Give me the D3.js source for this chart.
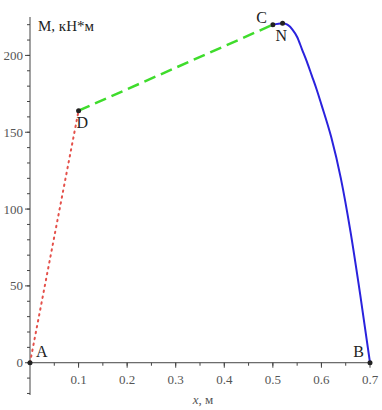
<!DOCTYPE html>
<html>
<head>
<meta charset="utf-8">
<script src="https://cdn.jsdelivr.net/npm/d3@7"></script>
<style>
  body { margin: 0; background: #fff; }
  text { font-family: "Liberation Serif", "DejaVu Serif", serif; }
</style>
</head>
<body>
<div id="target"></div>
<script>
// segment A-D (red dotted)
let segAD = [[0, 0], [0.1, 164]];
// segment D-C (green dashed)
let segDC = [[0.1, 164], [0.5, 220]];
// curve C-N-B (blue)
let curveX = [0.50, 0.52, 0.53, 0.54, 0.55, 0.56, 0.57, 0.58, 0.59, 0.60, 0.62, 0.64, 0.66, 0.68, 0.70];
let curveM = [220, 221, 220, 217, 212, 204, 196, 187, 178, 168, 147, 120, 85, 44, 0];
// labelled points
let pointNames = ["A", "D", "C", "N", "B"];
let pointX = [0, 0.1, 0.5, 0.52, 0.7];
let pointM = [0, 164, 220, 221, 0];
let xTicks = [0.1, 0.2, 0.3, 0.4, 0.5, 0.6, 0.7];
let yTicks = [0, 50, 100, 150, 200];

let width = 382,
  height = 410;

let x = d3.scaleLinear().domain([0, 0.7]).range([30, 370]);
let y = d3.scaleLinear().domain([-21, 225]).range([395, 17]);

let svg = d3.select("#target").append("svg")
  .attr("width", width)
  .attr("height", height);

// x axis through zero
let xAxis = svg.append("g")
  .attr("transform", "translate(0," + y(0) + ")");
xAxis.append("line")
  .attr("x1", x(0)).attr("x2", x(0.7))
  .attr("stroke", "#444").attr("stroke-width", 1);
xAxis.selectAll(".minor")
  .data(d3.range(1, 14).map((i) => i * 0.05))
  .enter().append("line")
  .attr("x1", (d) => x(d)).attr("x2", (d) => x(d))
  .attr("y1", 0).attr("y2", 3)
  .attr("stroke", "#444");
xAxis.selectAll(".major")
  .data(xTicks)
  .enter().append("line")
  .attr("x1", (d) => x(d)).attr("x2", (d) => x(d))
  .attr("y1", 0).attr("y2", 5)
  .attr("stroke", "#444");
xAxis.selectAll("text")
  .data(xTicks)
  .enter().append("text")
  .attr("x", (d) => x(d))
  .attr("y", 21)
  .attr("text-anchor", "middle")
  .style("font-size", "13px")
  .style("fill", "#555")
  .text((d) => d3.format(".1f")(d));

// y axis
let yAxis = svg.append("g")
  .attr("transform", "translate(" + x(0) + ",0)");
yAxis.append("line")
  .attr("y1", y(-21)).attr("y2", y(225))
  .attr("stroke", "#444").attr("stroke-width", 1);
yAxis.selectAll(".minor")
  .data(d3.range(-20, 225, 10))
  .enter().append("line")
  .attr("y1", (d) => y(d)).attr("y2", (d) => y(d))
  .attr("x1", -3).attr("x2", 0)
  .attr("stroke", "#444");
yAxis.selectAll(".major")
  .data(yTicks)
  .enter().append("line")
  .attr("y1", (d) => y(d)).attr("y2", (d) => y(d))
  .attr("x1", -5).attr("x2", 0)
  .attr("stroke", "#444");
yAxis.selectAll("text")
  .data(yTicks)
  .enter().append("text")
  .attr("x", -7)
  .attr("y", (d) => y(d))
  .attr("dy", "0.35em")
  .attr("text-anchor", "end")
  .style("font-size", "13px")
  .style("fill", "#555")
  .text((d) => d);

// axis titles
svg.append("text")
  .attr("x", 38).attr("y", 31)
  .style("font-size", "15px")
  .style("fill", "#222")
  .text("M, кН*м");
let xt = svg.append("text")
  .attr("x", 203).attr("y", 404)
  .attr("text-anchor", "middle")
  .style("font-size", "13px")
  .style("fill", "#555");
xt.append("tspan").style("font-style", "italic").text("x");
xt.append("tspan").text(", м");

let line = d3.line()
  .x((d) => x(d[0]))
  .y((d) => y(d[1]));

svg.append("path")
  .attr("d", line(segAD))
  .attr("fill", "none")
  .attr("stroke", "#e4504a")
  .attr("stroke-width", 2)
  .attr("stroke-dasharray", "1.5,4.5")
  .attr("stroke-linecap", "round");

svg.append("path")
  .attr("d", line(segDC))
  .attr("fill", "none")
  .attr("stroke", "#3fdc2c")
  .attr("stroke-width", 2.5)
  .attr("stroke-dasharray", "12,6");

let curve = curveX.map((d, i) => [d, curveM[i]]);
svg.append("path")
  .attr("d", line.curve(d3.curveMonotoneX)(curve))
  .attr("fill", "none")
  .attr("stroke", "#2a22dd")
  .attr("stroke-width", 2);

// points
let pts = pointNames.map((d, i) => ({ name: d, x: pointX[i], m: pointM[i] }));
svg.selectAll(".pt")
  .data(pts)
  .enter().append("circle")
  .attr("cx", (d) => x(d.x))
  .attr("cy", (d) => y(d.m))
  .attr("r", 2.5)
  .style("fill", "#222");

let labelOffset = {
  A: [6, -6, "start"],
  D: [-2, 17, "start"],
  C: [-6, -2, "end"],
  N: [-7, 18, "start"],
  B: [-6, -6, "end"]
};
svg.selectAll(".lbl")
  .data(pts)
  .enter().append("text")
  .attr("x", (d) => x(d.x) + labelOffset[d.name][0])
  .attr("y", (d) => y(d.m) + labelOffset[d.name][1])
  .attr("text-anchor", (d) => labelOffset[d.name][2])
  .style("font-size", "16px")
  .style("fill", "#222")
  .text((d) => d.name);
</script>
</body>
</html>
